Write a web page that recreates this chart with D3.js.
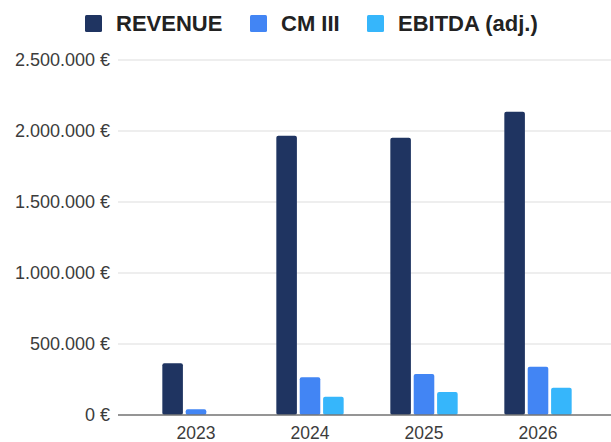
<!DOCTYPE html>
<html>
<head>
<meta charset="utf-8">
<script src="https://cdn.jsdelivr.net/npm/d3@7"></script>
<style>
  body { margin: 0; background: #fff; }
  svg { font-family: "Liberation Sans", Arial, sans-serif; }
  .axis text { fill: #3c3c3c; }
</style>
</head>
<body>
<svg></svg>
<script>
let years = ['2023', '2024', '2025', '2026']
let series = ['REVENUE', 'CM III', 'EBITDA (adj.)']
let revenue = [364000, 1967000, 1953000, 2136000]
let cm3 = [40000, 265000, 289000, 340000]
let ebitda = [0, 129000, 162000, 192000]
let yTicks = [0, 500000, 1000000, 1500000, 2000000, 2500000]
let colors = ['#1f3461', '#4285f4', '#36b6fb']

let rows = years.map((y, i) => ({ year: y, values: [revenue[i], cm3[i], ebitda[i]] }))

let W = 611, H = 442
let svg = d3.select('svg').attr('width', W).attr('height', H)

let x0 = d3.scaleBand().domain(years).range([139, 595]).paddingInner(0.36).paddingOuter(0.18)
let x1 = d3.scaleBand().domain(series).range([0, x0.bandwidth()]).padding(0.12)
let y = d3.scaleLinear().domain([0, 2500000]).range([415, 60])

let fmt = v => d3.format(',')(v).replace(/,/g, '.') + ' €'

// grid lines + labels
let yAxis = svg.append('g').attr('class', 'axis y')
yAxis.selectAll('line')
  .data(yTicks)
  .enter()
  .append('line')
  .attr('x1', 118).attr('x2', W)
  .attr('y1', d => y(d)).attr('y2', d => y(d))
  .attr('stroke', '#ddd')
  .attr('stroke-width', 1.2)
yAxis.selectAll('text')
  .data(yTicks)
  .enter()
  .append('text')
  .attr('x', 110)
  .attr('y', d => y(d))
  .attr('dy', '0.35em')
  .attr('text-anchor', 'end')
  .attr('font-size', 18)
  .text(fmt)

let groups = svg.selectAll('.grp')
  .data(rows)
  .enter()
  .append('g')
  .attr('class', 'grp')
  .attr('transform', d => 'translate(' + x0(d.year) + ',0)')

groups.selectAll('rect')
  .data(d => d.values.map((v, i) => ({ key: series[i], v: v, i: i })))
  .enter()
  .filter(d => d.v > 0)
  .append('rect')
  .attr('x', d => x1(d.key))
  .attr('y', d => y(d.v))
  .attr('width', x1.bandwidth())
  .attr('height', d => y(0) - y(d.v))
  .attr('rx', 2)
  .attr('fill', d => colors[d.i])

// baseline on top of bars
svg.append('line')
  .attr('x1', 118).attr('x2', W)
  .attr('y1', y(0)).attr('y2', y(0))
  .attr('stroke', '#777').attr('stroke-width', 1.5)

let xAxis = svg.append('g').attr('class', 'axis x')
xAxis.selectAll('text')
  .data(years)
  .enter()
  .append('text')
  .attr('x', d => x0(d) + x0.bandwidth() / 2)
  .attr('y', 439)
  .attr('text-anchor', 'middle')
  .attr('font-size', 17.5)
  .text(d => d)

// legend
let legendX = [85, 250, 367]
let legend = svg.append('g').selectAll('g')
  .data(series)
  .enter()
  .append('g')
  .attr('transform', (d, i) => 'translate(' + legendX[i] + ',15)')
legend.append('rect')
  .attr('width', 17).attr('height', 17).attr('rx', 1.5)
  .attr('fill', (d, i) => colors[i])
legend.append('text')
  .attr('x', 31).attr('y', 16)
  .attr('fill', '#222')
  .attr('font-size', 22)
  .attr('font-weight', 'bold')
  .text(d => d)
</script>
</body>
</html>
